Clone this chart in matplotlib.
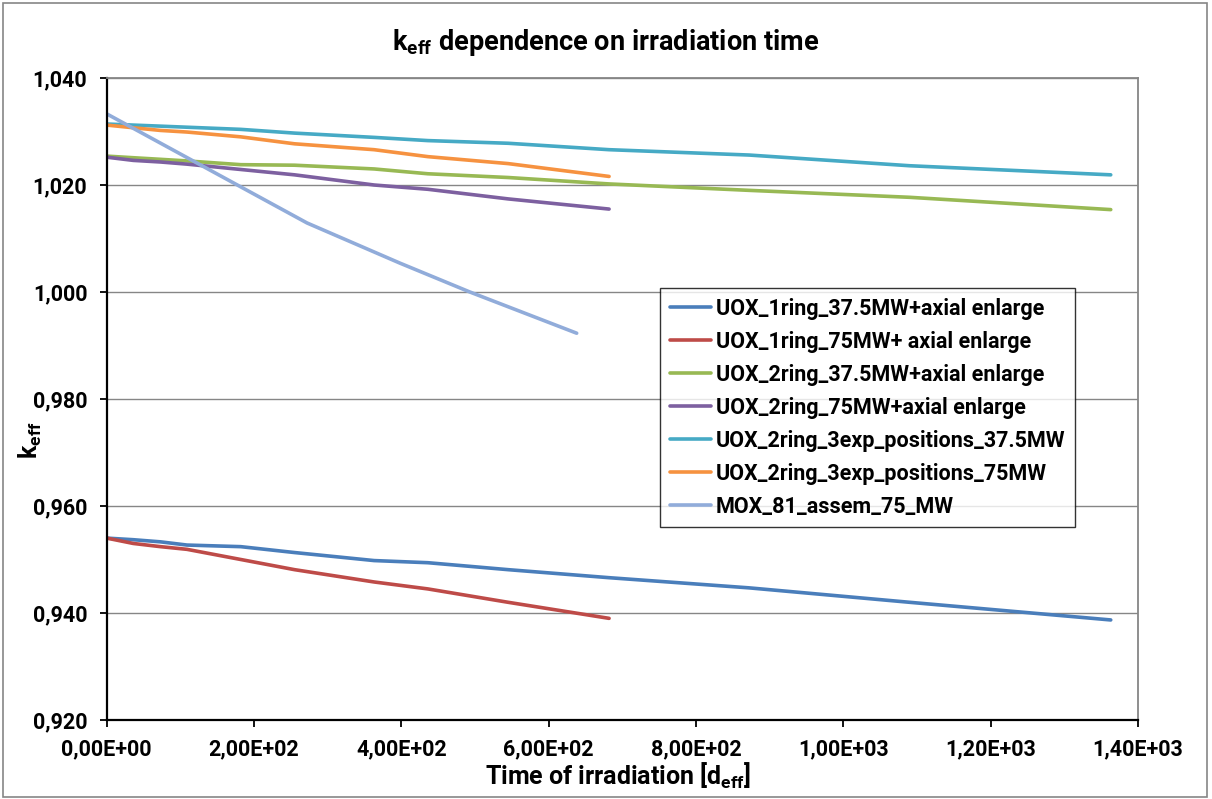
import matplotlib
matplotlib.use("Agg")
import matplotlib.pyplot as plt
from matplotlib.patches import Rectangle
from matplotlib.ticker import FuncFormatter, MultipleLocator

plt.rcParams["font.family"] = ["Roboto", "DejaVu Sans"]
plt.rcParams["font.weight"] = "bold"
plt.rcParams["mathtext.fontset"] = "custom"
plt.rcParams["mathtext.bf"] = "Roboto:bold"
plt.rcParams["mathtext.rm"] = "Roboto:bold"

# common burnup time steps [d_eff]
t_375 = [0, 36, 73, 109, 182, 255, 363, 436, 545, 682, 872, 1090, 1363]
t_75 = [0, 36, 73, 109, 182, 255, 363, 436, 545, 682]
t_mox = [0, 272, 398, 493, 638]

uox_1ring_375 = [0.9540, 0.9537, 0.9533, 0.9527, 0.9524, 0.9513, 0.9498, 0.9494,
                 0.9481, 0.9466, 0.9447, 0.9420, 0.9387]
uox_1ring_75 = [0.9540, 0.9530, 0.9524, 0.9519, 0.9500, 0.9481, 0.9458, 0.9445,
                0.9420, 0.9390]
uox_2ring_375 = [1.0254, 1.0251, 1.0248, 1.0245, 1.0238, 1.0237, 1.0230, 1.0221,
                 1.0214, 1.0202, 1.0190, 1.0177, 1.0154]
uox_2ring_75 = [1.0252, 1.0246, 1.0243, 1.0239, 1.0229, 1.0219, 1.0200, 1.0192,
                1.0174, 1.0155]
uox_3exp_375 = [1.0314, 1.0312, 1.0310, 1.0308, 1.0304, 1.0297, 1.0289, 1.0283,
                1.0278, 1.0266, 1.0256, 1.0236, 1.0219]
uox_3exp_75 = [1.0312, 1.0307, 1.0302, 1.0299, 1.0290, 1.0277, 1.0266, 1.0253,
               1.0240, 1.0216]
mox_81 = [1.0333, 1.0129, 1.0054, 1.0000, 0.9923]

series = [
    (t_375, uox_1ring_375, "UOX_1ring_37.5MW+axial enlarge", "#4A7EBB"),
    (t_75, uox_1ring_75, "UOX_1ring_75MW+ axial enlarge", "#BE4B48"),
    (t_375, uox_2ring_375, "UOX_2ring_37.5MW+axial enlarge", "#98B954"),
    (t_75, uox_2ring_75, "UOX_2ring_75MW+axial enlarge", "#7D60A0"),
    (t_375, uox_3exp_375, "UOX_2ring_3exp_positions_37.5MW", "#46AAC5"),
    (t_75, uox_3exp_75, "UOX_2ring_3exp_positions_75MW", "#F69240"),
    (t_mox, mox_81, "MOX_81_assem_75_MW", "#91ACDA"),
]

fig = plt.figure(figsize=(12.12, 7.99), dpi=100)
ax = fig.add_axes([106.7 / 1212, 1 - 720 / 799, (1138 - 106.7) / 1212, (720 - 78) / 799])

for x, y, name, col in series:
    ax.plot(x, y, color=col, lw=2.6, label=name, solid_capstyle="round")

ax.set_xlim(0, 1400)
ax.set_ylim(0.920, 1.040)
ax.xaxis.set_major_locator(MultipleLocator(200))
ax.yaxis.set_major_locator(MultipleLocator(0.02))
ax.xaxis.set_major_formatter(FuncFormatter(lambda v, p: f"{v:.2E}".replace(".", ",")))
ax.yaxis.set_major_formatter(FuncFormatter(lambda v, p: f"{v:.3f}".replace(".", ",")))
ax.tick_params(axis="both", labelsize=15.5, length=5, width=1.3, direction="out")
ax.tick_params(axis="x", pad=8)
ax.tick_params(axis="y", pad=9)
ax.grid(axis="y", color="#868686", lw=1)

for s in ["left", "bottom"]:
    ax.spines[s].set_color("black")
    ax.spines[s].set_linewidth(1.6)
for s in ["top", "right"]:
    ax.spines[s].set_color("#868686")
    ax.spines[s].set_linewidth(1.3)

fig.text(606 / 1212, 1 - 42 / 799, r"k$_{\mathbf{eff}}$ dependence on irradiation time",
         ha="center", va="center", fontsize=19.5, fontweight="bold")
fig.text(618 / 1212, 1 - 776 / 799, r"Time of irradiation [d$_{\mathbf{eff}}$]",
         ha="center", va="center", fontsize=18, fontweight="bold")
fig.text(30 / 1212, 1 - 440 / 799, r"k$_{\mathbf{eff}}$", ha="center", va="center",
         rotation=90, fontsize=18, fontweight="bold")

leg = ax.legend(loc="upper left", bbox_to_anchor=(660 / 1212, 1 - 288 / 799),
                bbox_transform=fig.transFigure, fontsize=15.5, frameon=True,
                fancybox=False, handlelength=1.9, labelspacing=0.51,
                borderpad=0.45, handletextpad=0.25, borderaxespad=0)
leg.get_frame().set_edgecolor("black")
leg.get_frame().set_linewidth(1.0)

fig.patches.append(Rectangle((3 / 1212, 2 / 799), 1204 / 1212, 794 / 799,
                             transform=fig.transFigure, fill=False,
                             edgecolor="#868686", lw=1.2))

fig.savefig("out.png", dpi=100)
